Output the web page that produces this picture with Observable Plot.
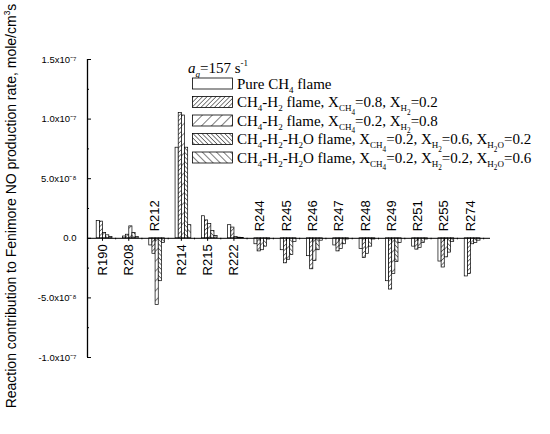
<!DOCTYPE html>
<html><head><meta charset="utf-8">
<script src="https://cdn.jsdelivr.net/npm/d3@7"></script>
<script src="https://cdn.jsdelivr.net/npm/@observablehq/plot@0.6"></script>
<style>
body{margin:0;background:#fff;}
#wrap{position:relative;width:550px;height:434px;}
#wrap > svg{position:absolute;left:0;top:0;}
</style></head><body>
<svg width="0" height="0" style="position:absolute">
<defs>
<pattern id="h2" patternUnits="userSpaceOnUse" width="3.2" height="3.2" patternTransform="rotate(45)"><rect width="3.2" height="3.2" fill="#fff"/><line x1="0" y1="0" x2="0" y2="3.2" stroke="#000" stroke-width="1"/></pattern>
<pattern id="h3" patternUnits="userSpaceOnUse" width="7" height="7" patternTransform="rotate(45)"><rect width="7" height="7" fill="#fff"/><line x1="0" y1="0" x2="0" y2="7" stroke="#000" stroke-width="1"/></pattern>
<pattern id="h4" patternUnits="userSpaceOnUse" width="3.2" height="3.2" patternTransform="rotate(-45)"><rect width="3.2" height="3.2" fill="#fff"/><line x1="0" y1="0" x2="0" y2="3.2" stroke="#000" stroke-width="1"/></pattern>
<pattern id="h5" patternUnits="userSpaceOnUse" width="5" height="5" patternTransform="rotate(-45)"><rect width="5" height="5" fill="#fff"/><line x1="0" y1="0" x2="0" y2="5" stroke="#000" stroke-width="1"/></pattern>
</defs></svg>
<div id="wrap"></div>
<script>
// values in units of 1e-8 mole/cm^3 s
const reactions = ["R190","R208","R212","R214","R215","R222","R244","R245","R246","R247","R248","R249","R251","R255","R274"];
const pureCH4   = [1.45, 0.15, -0.6, 7.6, 1.85, 1.1, -0.5, -1.0, -1.5, -0.6, -0.9, -3.6, -0.7, -1.95, -3.2];
const ch4h2_08  = [1.4, 0.3, -1.3, 10.5, 1.5, 0.9, -1.1, -2.1, -2.6, -1.1, -1.65, -4.3, -0.95, -2.45, -3.0];
const ch4h2_02  = [0.45, 1.0, -5.6, 10.3, 1.2, 0.1, -1.0, -1.8, -1.9, -0.9, -1.3, -3.0, -0.8, -1.6, -0.5];
const h2o_02    = [0.25, 0.45, -3.6, 7.6, 0.6, 0.05, -0.7, -1.4, -1.0, -0.5, -0.7, -2.0, -0.4, -1.2, -0.4];
const h2o_06    = [0.1, 0.1, -0.4, 1.1, 0.2, 0.02, -0.1, -0.3, -0.2, -0.1, -0.1, -0.4, -0.1, -0.3, -0.2];
const yTickValues = [-1e-7, -5e-8, 0, 5e-8, 1e-7, 1.5e-7];
const yTickLabels = ["-1.0x10\u207B\u2077", "-5.0x10\u207B\u2078", "0.0", "5.0x10\u207B\u2078", "1.0x10\u207B\u2077", "1.5x10\u207B\u2077"];
const yMinorTicks = [-7.5e-8, -2.5e-8, 2.5e-8, 7.5e-8, 1.25e-7];
const xDomain = [-0.57, 14.76];

const series = [pureCH4, ch4h2_08, ch4h2_02, h2o_02, h2o_06];
const fills = ["white", "url(#h2)", "url(#h3)", "url(#h4)", "url(#h5)"];
const barW = 0.12, barStart = -0.22;

const labelRows = reactions.map((name, i) => {
  const s = series.reduce((a, ser) => a + ser[i], 0);
  return {i, name, below: s > 0};
});

const barMarks = series.map((ser, k) => Plot.rectY(
  ser.map((v, i) => ({i, v: v * 1e-8})),
  {x1: d => d.i + barStart + barW * k, x2: d => d.i + barStart + barW * (k + 1), y1: 0, y2: "v",
   fill: fills[k], stroke: "black", strokeWidth: 0.7}
));

const chart = Plot.plot({
  width: 550, height: 434,
  marginLeft: 87, marginRight: 60, marginTop: 59, marginBottom: 77,
  style: {fontFamily: "'Liberation Sans', Arial, sans-serif", fontSize: "9px", background: "transparent"},
  x: {type: "linear", domain: xDomain, axis: null},
  y: {domain: [-1e-7, 1.5e-7], axis: null},
  marks: [
    ...barMarks,
    Plot.ruleY([0], {stroke: "black", strokeWidth: 1}),
    Plot.ruleX([xDomain[0]], {stroke: "black", strokeWidth: 1.3}),
    Plot.ruleX(reactions.map((r, i) => i), {x: d => d, y1: 0, y2: 0, insetBottom: -3, stroke: "black"}),
    Plot.ruleX(reactions.map((r, i) => i + 0.5), {x: d => d, y1: 0, y2: 0, insetBottom: -1.5, stroke: "black"}),
    Plot.axisY({ticks: yTickValues, label: null, tickSize: -4, tickPadding: 15, tickFormat: d => yTickLabels[yTickValues.indexOf(d)], fontSize: 9.5}),
    Plot.axisY({ticks: yMinorTicks, label: null, tickSize: -2, tickFormat: () => ""}),
    Plot.text(labelRows.filter(d => d.below), {x: "i", y: 0, text: "name", rotate: -90, textAnchor: "end", dy: 6, fontSize: 13}),
    Plot.text(labelRows.filter(d => !d.below), {x: "i", y: 0, text: "name", rotate: -90, textAnchor: "start", dy: -7, fontSize: 13})
  ]
});
document.getElementById("wrap").appendChild(chart);

// overlay: legend and axis title
const ns = "http://www.w3.org/2000/svg";
const ov = document.createElementNS(ns, "svg");
ov.setAttribute("width", 550); ov.setAttribute("height", 434);
document.getElementById("wrap").appendChild(ov);

function richText(x, y, segs, opts) {
  const t = document.createElementNS(ns, "text");
  t.setAttribute("x", x); t.setAttribute("y", y);
  t.setAttribute("font-family", opts.family);
  t.setAttribute("font-size", opts.size);
  if (opts.transform) t.setAttribute("transform", opts.transform);
  if (opts.anchor) t.setAttribute("text-anchor", opts.anchor);
  let cur = 0;
  const offs = {0: 0, 1: 0.28, 2: 0.5, "-1": -0.45};
  const sizes = {0: 1, 1: 0.6, 2: 0.48, "-1": 0.6};
  for (const [txt, lvl, italic] of segs) {
    const sp = document.createElementNS(ns, "tspan");
    const target = offs[lvl] * opts.size;
    sp.setAttribute("dy", (target - cur).toFixed(2));
    cur = target;
    sp.setAttribute("font-size", (sizes[lvl] * opts.size).toFixed(2));
    if (italic) sp.setAttribute("font-style", "italic");
    sp.textContent = txt;
    t.appendChild(sp);
  }
  ov.appendChild(t);
  return t;
}

const serif = {family: "'Liberation Serif', 'Times New Roman', serif", size: 15};
richText(188, 73, [["a", 0, true], ["g", 1, true], ["=157 s", 0], ["-1", -1]], serif);

const legendRows = [
  [["Pure CH", 0], ["4", 1], [" flame", 0]],
  [["CH", 0], ["4", 1], ["-H", 0], ["2", 1], [" flame, X", 0], ["CH", 1], ["4", 2], ["=0.8, X", 0], ["H", 1], ["2", 2], ["=0.2", 0]],
  [["CH", 0], ["4", 1], ["-H", 0], ["2", 1], [" flame, X", 0], ["CH", 1], ["4", 2], ["=0.2, X", 0], ["H", 1], ["2", 2], ["=0.8", 0]],
  [["CH", 0], ["4", 1], ["-H", 0], ["2", 1], ["-H", 0], ["2", 1], ["O flame, X", 0], ["CH", 1], ["4", 2], ["=0.2, X", 0], ["H", 1], ["2", 2], ["=0.6, X", 0], ["H", 1], ["2", 2], ["O", 1], ["=0.2", 0]],
  [["CH", 0], ["4", 1], ["-H", 0], ["2", 1], ["-H", 0], ["2", 1], ["O flame, X", 0], ["CH", 1], ["4", 2], ["=0.2, X", 0], ["H", 1], ["2", 2], ["=0.2, X", 0], ["H", 1], ["2", 2], ["O", 1], ["=0.6", 0]]
];
legendRows.forEach((segs, k) => {
  const y0 = 78 + k * 18.5;
  const r = document.createElementNS(ns, "rect");
  r.setAttribute("x", 192.5); r.setAttribute("y", y0);
  r.setAttribute("width", 40); r.setAttribute("height", 11);
  r.setAttribute("fill", fills[k]); r.setAttribute("stroke", "black"); r.setAttribute("stroke-width", 0.8);
  ov.appendChild(r);
  richText(237, y0 + 10.5, segs, serif);
});

richText(16, 206, [["Reaction contribution to Fenimore NO production rate, mole/cm", 0], ["3", -1], ["s", 0]],
  {family: "'Liberation Sans', Arial, sans-serif", size: 14, anchor: "middle", transform: "rotate(-90 16 206)"});
</script>
</body></html>
